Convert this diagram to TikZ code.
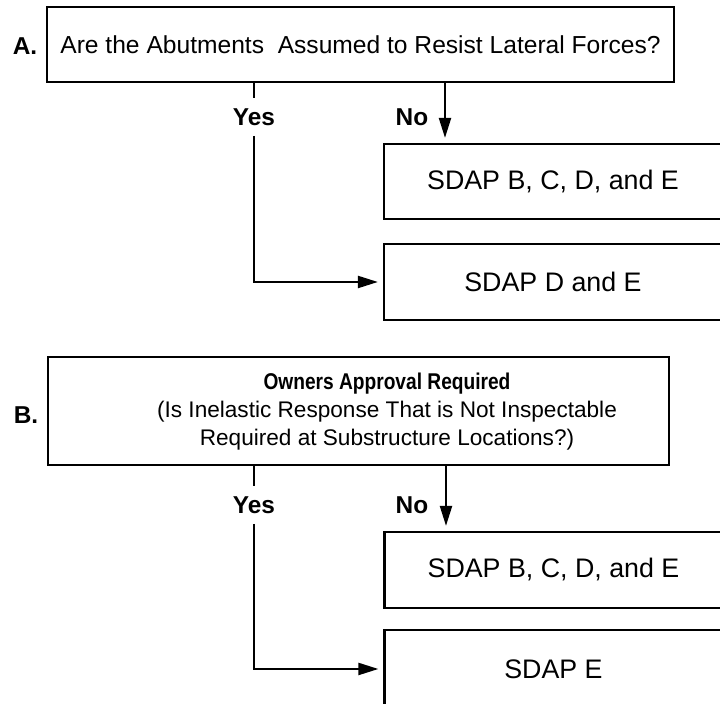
\documentclass[tikz,border=0pt]{standalone}
\usepackage{fontspec}
\setmainfont{Liberation Sans}
\newfontfamily\headfont[FakeStretch=0.84]{Liberation Sans}
\usetikzlibrary{arrows.meta,positioning}

\begin{document}
\begin{tikzpicture}[x=0.5pt,y=-0.5pt,
  box/.style={draw,line width=1.1pt,inner sep=0pt},
  sdap/.style={box,minimum width=169pt,font=\fontsize{13.4}{16}\selectfont},
  arr/.style={-{Triangle[length=10pt,width=6pt]},line width=1.1pt,shorten >=2.5pt},
  lbl/.style={font=\fontsize{12.2}{14}\selectfont\bfseries,inner sep=0pt,minimum height=18.5pt}]
\useasboundingbox (0,0) rectangle (720,704);
% A: abutments
\node[lbl] (la) at (25,46) {A.};
\node[box,minimum width=313.5pt,minimum height=37.5pt,font=\fontsize{12.3}{15}\selectfont] (qa) at (360.5,44.5) {Are the Abutments\ \ Assumed to Resist Lateral Forces?};
\node[lbl] (yesa) at (254,117) {Yes};
\node[lbl] (noa) at (412,117) {No};
\coordinate (noxa) at (445,82);
\node[sdap,minimum height=37.5pt] (sa1) at (553,181.5) {SDAP B, C, D, and E};
\node[sdap,minimum height=38pt] (sa2) at (553,282) {SDAP D and E};
\draw[line width=1.1pt] (qa.south -| yesa) -- (yesa.north);
\draw[arr] (yesa.south) -- (yesa |- sa2.west) -- (sa2.west);
\draw[arr] (qa.south -| noxa) -- (noxa |- sa1.north);
% B: owners approval
\node[lbl] (lb) at (26,415) {B.};
\node[box,minimum width=310.5pt,minimum height=54pt] (qb) at (358.5,411) {};
\node[align=center,inner sep=0pt,font=\fontsize{11.3}{14}\selectfont] (qbt) at (387,412) {{\headfont\fontsize{11.4}{14}\selectfont\bfseries Owners Approval Required}\\(Is Inelastic Response That is Not Inspectable\\Required at Substructure Locations?)};
\node[lbl] (yesb) at (254,505) {Yes};
\node[lbl] (nob) at (412,505) {No};
\coordinate (noxb) at (446,465);
\node[sdap,minimum height=38pt] (sb1) at (553.5,570) {SDAP B, C, D, and E};
\node[sdap,minimum height=39pt] (sb2) at (553.5,669) {SDAP E};
\draw[line width=1.1pt] (qb.south -| yesb) -- (yesb.north);
\draw[arr] (yesb.south) -- (yesb |- sb2.west) -- (sb2.west);
\draw[arr] (qb.south -| noxb) -- (noxb |- sb1.north);
\end{tikzpicture}
\end{document}
